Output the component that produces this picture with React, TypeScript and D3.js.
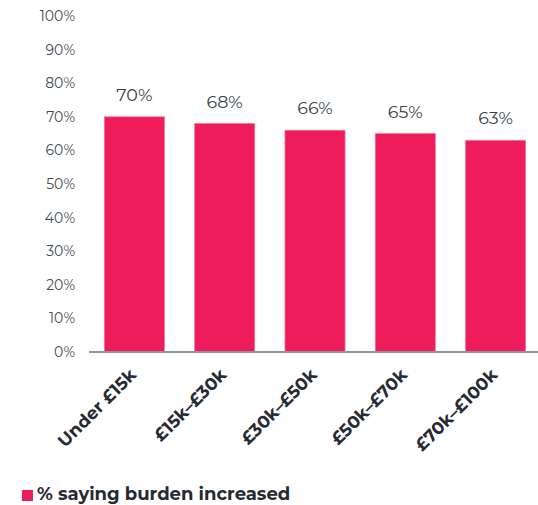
import React from "react";
import * as d3 from "d3";

const categories = ["Under £15k", "£15k–£30k", "£30k–£50k", "£50k–£70k", "£70k–£100k"];
const values = [70, 68, 66, 65, 63];
const yTicks = [0, 10, 20, 30, 40, 50, 60, 70, 80, 90, 100];
const seriesName = "% saying burden increased";

export default function App() {
  const W = 538, H = 505;
  const x = d3.scaleBand<string>().domain(categories).range([89, 541]).paddingInner(0.335).paddingOuter(0.17);
  const y = d3.scaleLinear().domain([0, 100]).range([352, 16]);
  const font = "Montserrat, 'Open Sans', Lato, sans-serif";
  const color = "#EE1C5A";
  return (
    <svg width={W} height={H} style={{ position: "absolute", left: 0, top: 0 }}>
      {yTicks.map((t) => (
        <text key={t} x={75} y={y(t)} dy="0.35em" textAnchor="end" fontFamily={font} fontSize={14} fill="#444b55">
          {t}%
        </text>
      ))}
      {categories.map((c, i) => (
        <g key={c}>
          <rect x={x(c)!} y={y(values[i])} width={x.bandwidth()} height={y(0) - y(values[i])} fill={color} stroke="#f0769a" strokeWidth={0.8} />
          <text x={x(c)! + x.bandwidth() / 2} y={y(values[i]) - 16} textAnchor="middle" fontFamily={font} fontSize={17.5} fill="#3a3f48">
            {values[i]}%
          </text>
          <text
            transform={`translate(${x(c)! + x.bandwidth() / 2 + 3},${y(0) + 24}) rotate(-45)`}
            textAnchor="end"
            fontFamily={font}
            fontSize={17.5}
            fontWeight="bold"
            fill="#252a33"
          >
            {c}
          </text>
        </g>
      ))}
      <line x1={89} x2={538} y1={y(0)} y2={y(0)} stroke="#8a96a3" strokeWidth={2} />
      <rect x={22} y={490} width={11} height={11} fill={color} />
      <text x={37} y={500} fontFamily={font} fontSize={18} fontWeight="bold" fill="#252a33">
        {seriesName}
      </text>
    </svg>
  );
}
